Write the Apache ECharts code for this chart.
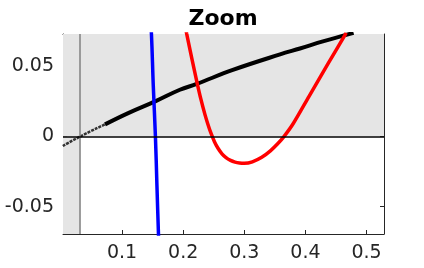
<!DOCTYPE html>
<html><head><meta charset="utf-8">
<script src="https://cdn.jsdelivr.net/npm/echarts@6/dist/echarts.min.js"></script>
<style>html,body{margin:0;padding:0;background:#fff}#c{width:424px;height:268px}</style>
</head><body><div id="c"></div>
<script>
const titleText = 'Zoom';
const xTicks = [0.1, 0.2, 0.3, 0.4, 0.5];
const yTicks = [-0.05, 0, 0.05];
const xRange = [0.0033, 0.5285];
const yRange = [-0.0694, 0.0727];
const xMark = 0.032;

const blackDashX = [0.003, 0.032, 0.072];
const blackDashY = [-0.0069, 0, 0.0085];
const blackX = [0.072, 0.11, 0.155, 0.1945, 0.222, 0.28, 0.3585, 0.391, 0.43, 0.4787];
const blackY = [0.0085, 0.0165, 0.025, 0.0331, 0.0372, 0.047, 0.0582, 0.0624, 0.0676, 0.0735];
const redX = [0.2011, 0.2056, 0.2143, 0.2225, 0.2290, 0.2356, 0.2405, 0.2454, 0.2511, 0.2569, 0.2634, 0.2700, 0.2774, 0.2848, 0.2921, 0.3000, 0.3131, 0.3285, 0.3426, 0.3541, 0.3651, 0.3798, 0.4061, 0.4379, 0.4667];
const redY = [0.0826, 0.0730, 0.0548, 0.0384, 0.0262, 0.0154, 0.0084, 0.0022, -0.0038, -0.0085, -0.0124, -0.0151, -0.0171, -0.0183, -0.0189, -0.0191, -0.0181, -0.0149, -0.0103, -0.0055, 0, 0.0089, 0.0286, 0.0523, 0.0735];
const blueX = [0.1465, 0.148, 0.151, 0.1545, 0.157, 0.1595, 0.1605];
const blueY = [0.08, 0.0727, 0.036, 0, -0.035, -0.0694, -0.08];

const zip = (a, b) => a.map((v, i) => [v, b[i]]);
const fmt = v => (v === 0 ? '0' : String(v));
const axisColor = '#262626';
const fontFam = 'DejaVu Sans';

const chart = echarts.init(document.getElementById('c'), null, {renderer: 'canvas'});
const xAxisBase = {
  type: 'value', min: xRange[0], max: xRange[1],
  axisLine: {show: true, onZero: false, lineStyle: {color: axisColor, width: 1}},
  splitLine: {show: false},
  axisTick: {show: true, inside: true, length: 4, customValues: xTicks, lineStyle: {color: axisColor}},
};
const yAxisBase = {
  type: 'value', min: yRange[0], max: yRange[1],
  axisLine: {show: true, onZero: false, lineStyle: {color: axisColor, width: 1}},
  splitLine: {show: false},
  axisTick: {show: true, inside: true, length: 4, customValues: yTicks, lineStyle: {color: axisColor}},
};
chart.setOption({
  animation: false,
  title: {text: titleText, left: 218, textAlign: 'center', top: 3,
    textStyle: {fontFamily: fontFam, fontWeight: 'bold', fontSize: 22, color: '#000'}},
  grid: {left: 63, right: 40, top: 34, bottom: 34, show: false},
  xAxis: [
    Object.assign({}, xAxisBase, {position: 'bottom',
      axisLabel: {show: true, customValues: xTicks, formatter: fmt, margin: 10,
        fontFamily: fontFam, fontSize: 19, color: axisColor}}),
    Object.assign({}, xAxisBase, {position: 'top', axisLabel: {show: false}})
  ],
  yAxis: [
    Object.assign({}, yAxisBase, {position: 'left',
      axisLabel: {show: true, customValues: yTicks, formatter: fmt, margin: 9,
        fontFamily: fontFam, fontSize: 19, color: axisColor}}),
    Object.assign({}, yAxisBase, {position: 'right', axisLabel: {show: false}})
  ],
  series: [
    {type: 'line', data: [], z: 1, silent: true,
      markArea: {silent: true, itemStyle: {color: '#e5e5e5'}, data: [
        [{coord: [xRange[0], 0]}, {coord: [xRange[1], yRange[1]]}],
        [{coord: [xRange[0], yRange[0]]}, {coord: [xMark, 0]}]
      ]},
      markLine: {silent: true, symbol: 'none', label: {show: false}, data: [
        {xAxis: xMark, lineStyle: {color: '#808080', width: 1.5, type: 'solid'}},
        {yAxis: 0, lineStyle: {color: '#000', width: 1.5, type: 'solid'}}
      ]}
    },
    {type: 'line', data: zip(blackDashX, blackDashY), smooth: true, symbol: 'none', z: 3,
      lineStyle: {color: '#333', width: 2.5, type: [3, 1]}},
    {type: 'line', data: zip(blackX, blackY), smooth: 0.4, symbol: 'none', z: 4,
      lineStyle: {color: '#000', width: 4}},
    {type: 'line', data: zip(blueX, blueY), smooth: true, symbol: 'none', z: 4,
      lineStyle: {color: '#0000ff', width: 3.5}},
    {type: 'line', data: zip(redX, redY), smooth: 0.3, symbol: 'none', z: 4,
      lineStyle: {color: '#ff0000', width: 3.5}}
  ]
});
</script></body></html>
